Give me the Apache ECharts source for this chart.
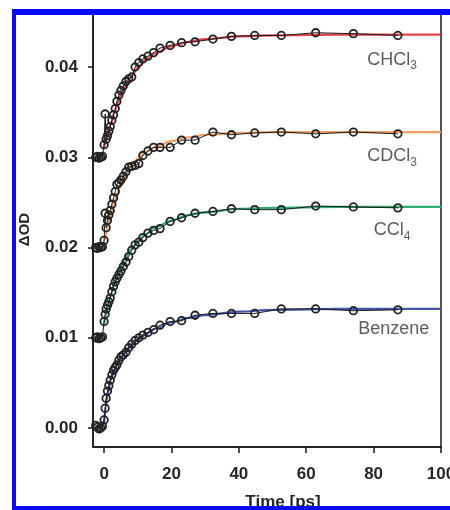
<!DOCTYPE html>
<html>
<head>
<meta charset="utf-8">
<script src="https://cdn.jsdelivr.net/npm/echarts@6/dist/echarts.min.js"></script>
<style>
html,body{margin:0;padding:0;background:#fff}
#c{width:450px;height:510px}
</style>
</head>
<body>
<div id="c"></div>
<script>
// Delay times (ps) of the measured transients
const times = [-2.5, -2, -1.5, -1, -0.5, 0, 0.3, 0.6, 1, 1.4, 1.8, 2.3, 2.8, 3.3, 3.8, 4.4, 5, 5.7, 6.5, 7.3, 8.2, 9.2, 10.3, 11.5, 13, 14.7, 16.6, 19.6, 23, 27, 32.3, 37.8, 44.7, 52.6, 62.8, 74, 87.2];

// Measured ΔOD, each trace offset by 0.01
const chcl3 = [0.0300, 0.0301, 0.0299, 0.0300, 0.0301, 0.0314, 0.0348, 0.0320, 0.0324, 0.0329, 0.0334, 0.0341, 0.0347, 0.0354, 0.0362, 0.0369, 0.0374, 0.0379, 0.0384, 0.0387, 0.0389, 0.0400, 0.0405, 0.0409, 0.0412, 0.0416, 0.0421, 0.0424, 0.0427, 0.0428, 0.0431, 0.0434, 0.0435, 0.0435, 0.0438, 0.0437, 0.0435];
const cdcl3 = [0.0200, 0.0199, 0.0201, 0.0200, 0.0201, 0.0208, 0.0238, 0.0222, 0.0230, 0.0236, 0.0241, 0.0248, 0.0255, 0.0262, 0.0270, 0.0272, 0.0275, 0.0279, 0.0284, 0.0289, 0.0290, 0.0291, 0.0293, 0.0302, 0.0307, 0.0311, 0.0311, 0.0311, 0.0319, 0.0319, 0.0328, 0.0325, 0.0327, 0.0328, 0.0326, 0.0328, 0.0326];
const ccl4 = [0.0100, 0.0101, 0.0099, 0.0100, 0.0101, 0.0118, 0.0126, 0.0132, 0.0136, 0.0140, 0.0144, 0.0151, 0.0157, 0.0162, 0.0166, 0.0170, 0.0174, 0.0179, 0.0184, 0.0190, 0.0197, 0.0203, 0.0206, 0.0211, 0.0216, 0.0219, 0.0221, 0.0229, 0.0233, 0.0238, 0.0240, 0.0243, 0.0242, 0.0242, 0.0246, 0.0245, 0.0244];
const benzene = [0.0003, 0.0001, -0.0001, 0.0000, 0.0002, 0.0009, 0.0022, 0.0033, 0.0041, 0.0047, 0.0053, 0.0059, 0.0064, 0.0067, 0.0070, 0.0075, 0.0079, 0.0081, 0.0084, 0.0089, 0.0093, 0.0097, 0.0100, 0.0103, 0.0106, 0.0109, 0.0114, 0.0118, 0.0119, 0.0125, 0.0127, 0.0127, 0.0127, 0.0132, 0.0132, 0.0130, 0.0131];

// Fitted rise curves
const fitTimes = [0, 0.5, 1, 2, 3, 4, 5, 6, 8, 10, 12, 15, 20, 25, 30, 40, 50, 70, 100];
const fitChcl3 = [0.0310, 0.0318, 0.0325, 0.0337, 0.0349, 0.0360, 0.0369, 0.0377, 0.0389, 0.0399, 0.0407, 0.0415, 0.0423, 0.0428, 0.0431, 0.0434, 0.0435, 0.0436, 0.0436];
const fitCdcl3 = [0.0205, 0.0214, 0.0222, 0.0237, 0.0250, 0.0261, 0.0270, 0.0278, 0.0290, 0.0298, 0.0305, 0.0311, 0.0318, 0.0322, 0.0325, 0.0327, 0.0328, 0.0328, 0.0328];
const fitCcl4 = [0.0115, 0.0125, 0.0134, 0.0148, 0.0160, 0.0170, 0.0179, 0.0186, 0.0198, 0.0207, 0.0214, 0.0222, 0.0230, 0.0236, 0.0239, 0.0243, 0.0244, 0.0245, 0.0245];
const fitBenzene = [0.0005, 0.0024, 0.0037, 0.0054, 0.0064, 0.0072, 0.0078, 0.0083, 0.0091, 0.0098, 0.0103, 0.0110, 0.0117, 0.0122, 0.0125, 0.0129, 0.0131, 0.0132, 0.0132];

// Solvent labels: [time, ΔOD, formula, subscript]
const solventLabels = [
  [85.5, 0.0408, 'CHCl', '3'],
  [85.5, 0.0301, 'CDCl', '3'],
  [85.5, 0.0219, 'CCl', '4'],
  [86.0, 0.0110, 'Benzene', '']
];

const xTicks = [0, 20, 40, 60, 80, 100];
const yTicks = [0.00, 0.01, 0.02, 0.03, 0.04];

const fitColors = ['#e0424a', '#f0a066', '#2eae6e', '#4654ac'];

const pair = (xs, ys) => xs.map((x, i) => [x, ys[i]]);
const font = 'Liberation Sans, Arial, sans-serif';
const ink = '#262626';

const traces = [chcl3, cdcl3, ccl4, benzene];
const fits = [fitChcl3, fitCdcl3, fitCcl4, fitBenzene];

const series = [];
fits.forEach((f, i) => {
  series.push({
    type: 'line', data: pair(fitTimes, f), smooth: 0.35, smoothMonotone: 'x',
    symbol: 'none', lineStyle: { color: fitColors[i], width: 2.2 }, z: 2, silent: true
  });
});
traces.forEach((d) => {
  series.push({
    type: 'line', data: pair(times, d), symbol: 'circle', symbolSize: 7.5,
    lineStyle: { color: '#1a1a1a', width: 1 },
    itemStyle: { color: 'rgba(0,0,0,0)', borderColor: '#222', borderWidth: 1.8 },
    z: 3, silent: true
  });
});
series.push({
  type: 'scatter', symbolSize: 0, z: 4, silent: true,
  data: solventLabels.map(l => ({ value: [l[0], l[1]], name: l[2], sub: l[3] })),
  label: {
    show: true, position: 'inside',
    formatter: p => '{m|' + p.data.name + '}' + (p.data.sub ? '{s|' + p.data.sub + '}' : ''),
    rich: {
      m: { fontFamily: font, fontSize: 18, color: '#333' },
      s: { fontFamily: font, fontSize: 12, color: '#333', padding: [12, 0, 0, 0] }
    }
  }
});

const chart = echarts.init(document.getElementById('c'), null, { renderer: 'canvas' });
chart.setOption({
  animation: false,
  backgroundColor: '#fff',
  grid: {
    left: 93, right: 9, top: 12, bottom: 63, outerBoundsMode: 'none', containLabel: false,
    show: true, borderColor: '#1a1a1a', borderWidth: 1.5, backgroundColor: 'transparent'
  },
  xAxis: {
    type: 'value', min: -3.3, max: 100,
    name: 'Time [ps]', nameLocation: 'middle', nameGap: 47,
    nameTextStyle: { fontFamily: font, fontWeight: 'bold', fontSize: 17, color: ink, padding: [0, 0, 0, 32] },
    axisLine: { show: true, onZero: false, lineStyle: { color: '#1a1a1a', width: 1.5 } },
    axisTick: { show: true, customValues: xTicks, length: 6, lineStyle: { color: '#1a1a1a', width: 1.5 } },
    axisLabel: { customValues: xTicks, fontFamily: font, fontWeight: 'bold', fontSize: 17, color: ink, margin: 19 },
    splitLine: { show: false }
  },
  yAxis: {
    type: 'value', min: -0.0021, max: 0.0461,
    name: 'ΔOD', nameLocation: 'middle', nameGap: 61, nameRotate: 90,
    nameTextStyle: { fontFamily: font, fontWeight: 'bold', fontSize: 15, color: ink },
    axisLine: { show: true, onZero: false, lineStyle: { color: '#1a1a1a', width: 1.5 } },
    axisTick: { show: true, customValues: yTicks, length: 5, lineStyle: { color: '#1a1a1a', width: 1.5 } },
    axisLabel: { customValues: yTicks, formatter: v => v.toFixed(2), fontFamily: font, fontWeight: 'bold', fontSize: 17, color: ink, margin: 15 },
    splitLine: { show: false }
  },
  series: series,
  graphic: [
    { type: 'rect', shape: { x: 12, y: 9, width: 438, height: 6 }, style: { fill: '#0a0af0' }, z: 100 },
    { type: 'rect', shape: { x: 12, y: 9, width: 4, height: 501 }, style: { fill: '#0a0af0' }, z: 100 },
    { type: 'rect', shape: { x: 12, y: 506, width: 438, height: 4 }, style: { fill: '#0a0af0' }, z: 100 }
  ]
});
</script>
</body>
</html>
